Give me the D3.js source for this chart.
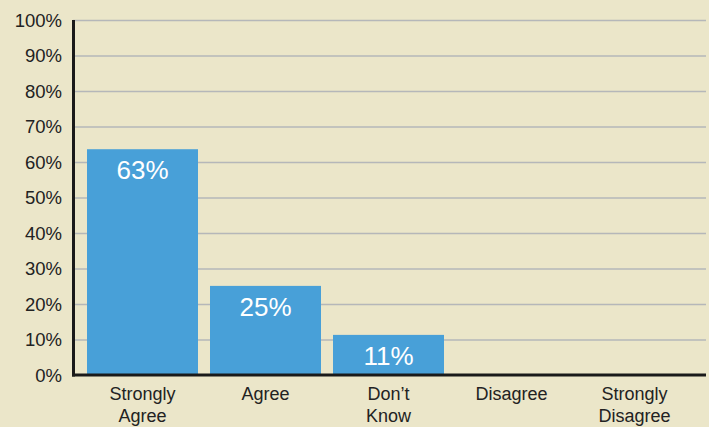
<!DOCTYPE html>
<html>
<head>
<meta charset="utf-8">
<script src="https://cdn.jsdelivr.net/npm/d3@7"></script>
<style>
  html, body { margin: 0; padding: 0; background: #ebe6c9; }
  svg { display: block; }
  text { font-family: "Helvetica Neue", Helvetica, "Liberation Sans", Arial, sans-serif; }
</style>
</head>
<body>
<script>
const categories = [["Strongly", "Agree"], ["Agree"], ["Don\u2019t", "Know"], ["Disagree"], ["Strongly", "Disagree"]];
const values = [63.6, 25.1, 11.3, 0, 0];
const valueLabels = ["63%", "25%", "11%", "", ""];
const yTicks = [0, 10, 20, 30, 40, 50, 60, 70, 80, 90, 100];

const W = 709, H = 427;
const svg = d3.select("body").append("svg").attr("width", W).attr("height", H);
svg.append("rect").attr("width", W).attr("height", H).attr("fill", "#ebe6c9");

const x = d3.scaleBand()
  .domain(d3.range(categories.length))
  .range([75, 702])
  .paddingInner(0.0976)
  .paddingOuter(0.0976);
const y = d3.scaleLinear().domain([0, 100]).range([375, 20]);

// gridlines
svg.append("g").selectAll("line").data(yTicks.filter(d => d > 0)).join("line")
  .attr("x1", 73).attr("x2", 706)
  .attr("y1", d => y(d) + 0.5).attr("y2", d => y(d) + 0.5)
  .attr("stroke", "#b5b7b9").attr("stroke-width", 1.4);

// y tick labels
svg.append("g").selectAll("text").data(yTicks).join("text")
  .attr("x", 62).attr("y", d => y(d))
  .attr("dy", "0.36em")
  .attr("text-anchor", "end")
  .attr("font-size", 18.5)
  .attr("fill", "#222")
  .text(d => d + "%");

// bars
svg.append("g").selectAll("rect").data(values).join("rect")
  .attr("x", (d, i) => x(i))
  .attr("width", x.bandwidth())
  .attr("y", d => y(d))
  .attr("height", d => y(0) - y(d))
  .attr("fill", "#48a0d8");

// value labels
svg.append("g").selectAll("text").data(values).join("text")
  .attr("x", (d, i) => x(i) + x.bandwidth() / 2)
  .attr("y", d => y(d) + 30)
  .attr("text-anchor", "middle")
  .attr("font-size", 26)
  .attr("font-weight", 300)
  .attr("fill", "#ffffff")
  .text((d, i) => valueLabels[i]);

// axes lines
svg.append("line").attr("x1", 73.5).attr("x2", 73.5).attr("y1", 20).attr("y2", 376.5)
  .attr("stroke", "#1a1a1a").attr("stroke-width", 3);
svg.append("line").attr("x1", 72).attr("x2", 706).attr("y1", y(0)).attr("y2", y(0))
  .attr("stroke", "#1a1a1a").attr("stroke-width", 3);

// x category labels
const xl = svg.append("g").selectAll("text").data(categories).join("text")
  .attr("x", (d, i) => x(i) + x.bandwidth() / 2)
  .attr("y", 400)
  .attr("text-anchor", "middle")
  .attr("font-size", 18)
  .attr("fill", "#222");
xl.each(function(d) {
  const t = d3.select(this);
  d.forEach((line, j) => {
    t.append("tspan")
      .attr("x", t.attr("x"))
      .attr("dy", j === 0 ? 0 : 22)
      .text(line);
  });
});
</script>
</body>
</html>
